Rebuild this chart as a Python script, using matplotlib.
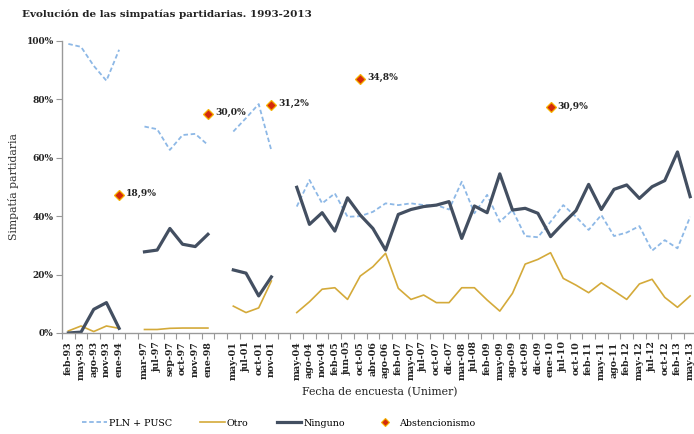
import numpy as np
import matplotlib
matplotlib.use('Agg')
import matplotlib.pyplot as plt
from matplotlib.ticker import FixedLocator, FuncFormatter
from matplotlib.lines import Line2D

# Survey dates (empty strings are the gaps between groups)
fechas = ['feb-93', 'may-93', 'ago-93', 'nov-93', 'ene-94', '',
          'mar-97', 'jul-97', 'sep-97', 'oct-97', 'nov-97', 'ene-98', '',
          'may-01', 'jul-01', 'oct-01', 'nov-01', '',
          'may-04', 'ago-04', 'nov-04', 'feb-05', 'jun-05', 'oct-05', 'abr-06', 'ago-06',
          'feb-07', 'may-07', 'jul-07', 'oct-07', 'dic-07', 'mar-08', 'jul-08', 'feb-09',
          'may-09', 'ago-09', 'oct-09', 'dic-09', 'ene-10', 'jul-10', 'oct-10', 'feb-11',
          'may-11', 'ago-11', 'feb-12', 'may-12', 'jul-12', 'oct-12', 'feb-13', 'may-13']

pln_pusc = [99.0, 98.0, 91.5, 86.4, 97.0, None,
            70.7, 69.8, 62.7, 67.8, 68.2, 64.4, None,
            69.0, 73.6, 78.4, 62.5, None,
            43.3, 52.4, 44.4, 47.8, 39.8, 40.0, 41.5, 44.4, 43.8, 44.4, 43.8, 43.8,
            42.3, 51.8, 41.0, 47.3, 38.1, 42.1, 33.2, 32.8, 38.1, 43.8, 39.8, 35.3,
            40.4, 33.2, 34.4, 36.6, 28.2, 31.8, 29.0, 39.8]

otro = [0.7, 2.4, 0.5, 2.4, 1.6, None,
        1.2, 1.2, 1.6, 1.7, 1.7, 1.7, None,
        9.2, 7.0, 8.6, 17.8, None,
        7.0, 10.7, 15.0, 15.5, 11.5, 19.5, 22.7, 27.3, 15.3, 11.5, 13.0, 10.4,
        10.4, 15.5, 15.5, 11.3, 7.5, 13.6, 23.6, 25.2, 27.5, 18.7, 16.4, 13.8,
        17.2, 14.4, 11.5, 16.8, 18.4, 12.2, 8.8, 12.7]

ninguno = [0.0, 0.3, 8.1, 10.4, 1.6, None,
           27.8, 28.4, 35.8, 30.4, 29.6, 33.8, None,
           21.6, 20.5, 12.7, 19.2, None,
           49.9, 37.2, 41.2, 34.9, 46.3, 40.4, 35.8, 28.4, 40.6, 42.3, 43.3, 43.8,
           45.0, 32.4, 43.5, 41.2, 54.5, 42.1, 42.7, 41.0, 33.0, 37.6, 41.9, 50.9,
           42.3, 49.2, 50.7, 46.1, 50.1, 52.2, 62.0, 46.7]

# Abstention at each election (secondary scale, 0-40%)
abst_fechas = ['ene-94', 'ene-98', 'nov-01', 'oct-05', 'ene-10']
abstencion = [18.9, 30.0, 31.2, 34.8, 30.9]

FONT = 'DejaVu Serif'
C_PLN = '#8db8e6'
C_OTRO = '#d4aa3a'
C_NIN = '#434f61'
C_ABS = '#d42a0c'

def to_arr(vals):
    return np.array([np.nan if v is None else v for v in vals], dtype=float)

x = np.arange(len(fechas))

fig = plt.figure(figsize=(6.94, 4.34), dpi=100)
ax = fig.add_axes([62 / 694, 1 - 333 / 434, 634.5 / 694, 292 / 434])

ax.plot(x, to_arr(pln_pusc), color=C_PLN, lw=1.3, ls=(0, (2.5, 1.5)))
ax.plot(x, to_arr(otro), color=C_OTRO, lw=1.2)
ax.plot(x, to_arr(ninguno), color=C_NIN, lw=2.3)

ax.set_xlim(-0.5, len(fechas) - 0.5)
ax.set_ylim(0, 100)

# y axis
ax.set_yticks([0, 20, 40, 60, 80, 100])
ax.yaxis.set_major_formatter(FuncFormatter(lambda v, p: f'{v:.0f}%'))
for lab in ax.get_yticklabels():
    lab.set_fontfamily(FONT)
    lab.set_fontsize(6.5)
    lab.set_fontweight('bold')
    lab.set_color('#222222')
ax.set_ylabel('Simpatía partidaria', fontfamily=FONT, fontsize=7.8, color='#333333', labelpad=5)

# x axis: tick marks between categories, labels at centres
ax.xaxis.set_major_locator(FixedLocator(np.arange(len(fechas) + 1) - 0.5))
ax.xaxis.set_major_formatter(FuncFormatter(lambda v, p: ''))
ax.xaxis.set_minor_locator(FixedLocator(x))
ax.set_xticklabels(fechas, minor=True, rotation=90, fontfamily=FONT, fontsize=6.8,
                   fontweight='bold', color='#222222')
ax.tick_params(axis='x', which='minor', length=0, pad=6)
ax.tick_params(axis='x', which='major', length=4, color='#999999', direction='out')
ax.tick_params(axis='y', length=4, color='#999999', direction='out', pad=2)
ax.set_xlabel('Fecha de encuesta (Unimer)', fontfamily=FONT, fontsize=7.8,
              color='#222222', labelpad=5)

for s in ['top', 'right']:
    ax.spines[s].set_visible(False)
for s in ['left', 'bottom']:
    ax.spines[s].set_color('#999999')
    ax.spines[s].set_linewidth(1.0)

# abstention on a hidden secondary axis
ax2 = ax.twinx()
ax2.set_ylim(0, 40)
ax2.axis('off')
ax_x = [fechas.index(f) for f in abst_fechas]
ax2.plot(ax_x, abstencion, ls='none', marker='D', ms=5.5, mfc=C_ABS,
         mec='#f6b300', mew=0.9)
for xi, v in zip(ax_x, abstencion):
    ax2.annotate(f'{v:.1f}%'.replace('.', ','), (xi, v), xytext=(5, 1),
                 textcoords='offset points', ha='left', va='center',
                 fontfamily=FONT, fontsize=6.6, fontweight='bold', color='#222222')

fig.text(22 / 694, 1 - 14 / 434, 'Evolución de las simpatías partidarias. 1993-2013',
         fontfamily=FONT, fontsize=7.5, fontweight='bold', color='#222222', va='center')

handles = [Line2D([], [], color=C_PLN, lw=1.3, ls=(0, (2.5, 1.5))),
           Line2D([], [], color=C_OTRO, lw=1.2),
           Line2D([], [], color=C_NIN, lw=2.3),
           Line2D([], [], ls='none', marker='D', ms=4, mfc=C_ABS, mec='#f6b300', mew=0.8)]
fig.legend(handles, ['PLN + PUSC', 'Otro', 'Ninguno', 'Abstencionismo'],
           loc='center', bbox_to_anchor=(279 / 694, 1 - 423 / 434), ncol=4,
           frameon=False, prop={'family': FONT, 'size': 6.8}, handlelength=2.6,
           columnspacing=3.0, handletextpad=0.2)

fig.savefig('out.png', dpi=100)
